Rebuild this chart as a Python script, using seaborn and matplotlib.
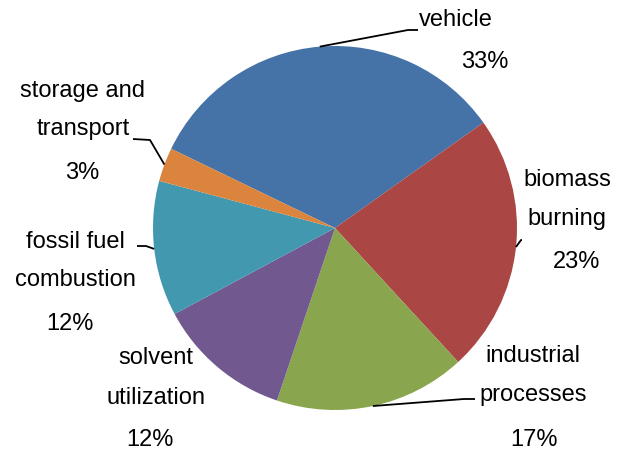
import numpy as np
import matplotlib.pyplot as plt
import seaborn as sns

sns.set_style("white")
plt.rcParams['font.family'] = ['Liberation Sans', 'DejaVu Sans']

sources = ['vehicle', 'biomass\nburning', 'industrial\nprocesses',
           'solvent\nutilization', 'fossil fuel\ncombustion', 'storage and\ntransport']
shares = [33, 23, 17, 12, 12, 3]
colors = ['#4572A7', '#AA4643', '#89A54E', '#71588F', '#4198AF', '#DB843D']

# label positions in pixels (y down): centre of name block, centre of percent
name_pos = [(456, 20), (567, 199), (533, 376), (156, 378), (75, 261), (83, 110)]
pct_pos = [(485, 62), (577, 262), (534, 440), (150, 440), (70, 324), (82, 173)]
# leader line: elbow point, then end point next to the text
line_pts = [[(408, 30), (418, 30)],
            [(521, 240), (522, 240)],
            [(464, 399), (475, 399)],
            None,
            [(146, 246), (137, 246)],
            [(150, 140), (133, 139)]]

fig = plt.figure(figsize=(6.26, 4.5), dpi=100)
ax = fig.add_axes([0, 0, 1, 1])

cx, cy, r = 335, 450 - 228, 182
wedges, _ = ax.pie(shares, colors=colors, startangle=154.2, counterclock=False,
                   center=(cx, cy), radius=r, frame=True,
                   wedgeprops=dict(linewidth=0))
ax.set_xlim(0, 626)
ax.set_ylim(0, 450)
ax.set_aspect('equal')
ax.axis('off')

for w, name, pct, (nx, ny), (qx, qy), pts in zip(wedges, sources, shares,
                                                  name_pos, pct_pos, line_pts):
    ax.text(nx, 450 - ny, name, ha='center', va='center', fontsize=17,
            linespacing=2.0, multialignment='center', color='black')
    ax.text(qx, 450 - qy, f'{pct}%', ha='center', va='center', fontsize=17,
            color='black')
    if pts is not None:
        mid = np.deg2rad((w.theta1 + w.theta2) / 2)
        xs = [cx + r * np.cos(mid)] + [p[0] for p in pts]
        ys = [cy + r * np.sin(mid)] + [450 - p[1] for p in pts]
        ax.plot(xs, ys, color='black', lw=1.3, solid_capstyle='butt')

fig.savefig('out.png', dpi=100)
